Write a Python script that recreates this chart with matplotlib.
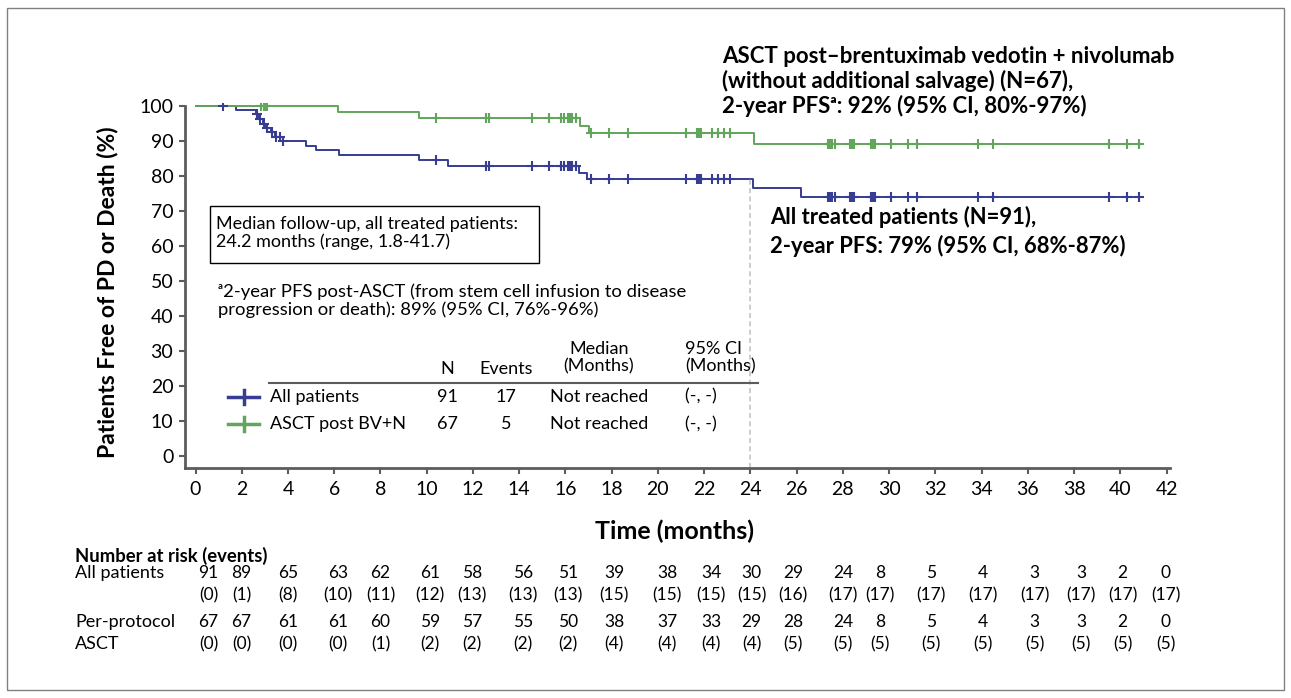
import matplotlib
matplotlib.use("Agg")
import matplotlib.pyplot as plt
import matplotlib.transforms as mtransforms
from matplotlib.lines import Line2D
from matplotlib.patches import Rectangle
import numpy as np

plt.rcParams['font.family'] = ['Lato', 'DejaVu Sans']

W, H = 1291, 698

# Kaplan-Meier steps: month at which the curve changes and the level from then on
all_t = [0, 1.76, 2.6, 2.75, 2.9, 3.05, 3.25, 3.45, 3.78, 4.78, 5.2, 6.2,
         9.68, 10.9, 16.6, 16.95, 24.1, 26.2, 41.0]
all_s = [100, 98.9, 97.6, 96.3, 95.0, 93.8, 92.5, 91.2, 90.0, 88.7, 87.4, 86.0,
         84.5, 82.9, 81.0, 79.1, 76.5, 73.9, 73.9]
asct_t = [0, 6.15, 9.68, 16.65, 17.0, 24.15, 41.0]
asct_s = [100, 98.3, 96.5, 94.2, 92.2, 89.1, 89.1]

# censored observations (months)
all_cens = [1.2, 2.65, 2.8, 2.95, 3.1, 3.3, 3.5, 3.65, 3.8, 10.4, 12.55, 12.7,
            14.57, 15.3, 15.8, 15.95, 16.1, 16.2, 16.3, 16.45, 17.1, 17.9, 18.7,
            21.2, 21.7, 21.78, 21.85, 22.35, 22.6, 22.85, 23.1,
            27.35, 27.45, 27.55, 27.65, 28.3, 28.4, 28.5, 29.2, 29.3, 29.4,
            30.1, 30.8, 31.2, 33.85, 34.5, 39.5, 40.3, 40.8]
asct_cens = [2.85, 2.95, 3.0, 3.1, 10.4, 12.55, 12.7, 14.57, 15.3, 15.8, 15.95,
             16.1, 16.2, 16.3, 16.45, 17.1, 17.9, 18.7,
             21.2, 21.7, 21.78, 21.85, 22.35, 22.6, 22.85, 23.1,
             27.35, 27.45, 27.55, 27.65, 28.3, 28.4, 28.5, 29.2, 29.3, 29.4,
             30.1, 30.8, 31.2, 33.85, 34.5, 39.5, 40.3, 40.8]

landmark = 24

# number at risk (events) every 2 months
all_risk = [91, 89, 65, 63, 62, 61, 58, 56, 51, 39, 38, 34, 30, 29, 24, 8, 5, 4, 3, 3, 2, 0]
all_events = [0, 1, 8, 10, 11, 12, 13, 13, 13, 15, 15, 15, 15, 16, 17, 17, 17, 17, 17, 17, 17, 17]
pp_risk = [67, 67, 61, 61, 60, 59, 57, 55, 50, 38, 37, 33, 29, 28, 24, 8, 5, 4, 3, 3, 2, 0]
pp_events = [0, 0, 0, 0, 1, 2, 2, 2, 2, 4, 4, 4, 4, 5, 5, 5, 5, 5, 5, 5, 5, 5]

# summary table
grp_names = ['All patients', 'ASCT post BV+N']
grp_n = [91, 67]
grp_events = [17, 5]
grp_median = ['Not reached', 'Not reached']
grp_ci = ['(-, -)', '(-, -)']

BLUE = '#363d92'
GREEN = '#62a55c'
GREY = '#5c5c5c'

# where the risk-table columns sit along the time axis
risk_cols = [0.56, 1.99, 4.0, 6.17, 8.0, 10.14, 11.95, 14.15, 16.1, 18.1, 20.4,
             22.3, 24.05, 25.85, 28.0, 29.6, 31.8, 34.05, 36.3, 38.3, 40.1, 41.97]


def fxy(x, y):
    return x / W, 1 - y / H


def censor_levels(t, s, c):
    idx = np.searchsorted(t, c, side='right') - 1
    return np.asarray(s)[idx]


fig = plt.figure(figsize=(W / 100, H / 100), dpi=100)
ax = fig.add_axes([0.1434, 0.3295, 0.7629, 0.5236])

ax.step(all_t, all_s, where='post', color=BLUE, lw=1.4)
ax.step(asct_t, asct_s, where='post', color=GREEN, lw=1.4)
ax.plot(all_cens, censor_levels(all_t, all_s, all_cens), ls='none', marker='+',
        ms=7, mew=1.5, color=BLUE)
ax.plot(asct_cens, censor_levels(asct_t, asct_s, asct_cens), ls='none', marker='+',
        ms=7, mew=1.5, color=GREEN)

ax.set_xlim(-0.45, 42.15)
ax.set_ylim(-3.3, 101)
ax.vlines(landmark, -3.3, censor_levels(all_t, all_s, [landmark])[0],
          colors='#c4c4c4', linestyles=(0, (3, 2)), lw=1.2)

ax.set_xticks(range(0, 43, 2))
ax.set_yticks(range(0, 101, 10))
for side in ('top', 'right'):
    ax.spines[side].set_visible(False)
for side in ('left', 'bottom'):
    ax.spines[side].set_color(GREY)
    ax.spines[side].set_linewidth(2)
ax.spines['left'].set_bounds(-3.3, 100)
ax.tick_params(axis='both', colors=GREY, width=1.5, length=4.5, labelsize=14,
               labelcolor='black')
ax.tick_params(axis='x', pad=5)
ax.tick_params(axis='y', pad=4)

ax.set_ylabel('Patients Free of PD or Death (%)', fontsize=16.5, fontweight='bold')
ax.yaxis.set_label_coords(-0.068, 0.48)
ax.set_xlabel('Time (months)', fontsize=18, fontweight='bold', va='center')
ax.xaxis.set_label_coords(0.497, -0.174)

# curve annotations
fig.text(*fxy(722, 81.5), 'ASCT post\u2013brentuximab vedotin + nivolumab\n'
         '(without additional salvage) (N=67),\n'
         '2-year PFS\u1d43: 92% (95% CI, 80%-97%)',
         fontsize=16, fontweight='bold', va='center', ha='left', linespacing=1.17)
fig.text(*fxy(770, 231.6), 'All treated patients (N=91),\n'
         '2-year PFS: 79% (95% CI, 68%-87%)',
         fontsize=15.8, fontweight='bold', va='center', ha='left', linespacing=1.35)

# follow-up box
fig.add_artist(Rectangle(fxy(210, 263), 329 / W, 57 / H, transform=fig.transFigure,
                         fill=False, ec='black', lw=1))
fig.text(*fxy(216, 233), 'Median follow-up, all treated patients:\n'
         '24.2 months (range, 1.8-41.7)', fontsize=13, va='center',
         linespacing=1.12)
fig.text(*fxy(218, 300.5), '\u1d43' + '2-year PFS post-ASCT (from stem cell infusion to disease\n'
         'progression or death): 89% (95% CI, 76%-96%)', fontsize=13.3,
         va='center', linespacing=1.1)

# summary table
tbl_fs = 13
tbl_x = [447, 506, 599, 685]
fig.text(*fxy(tbl_x[0], 369), 'N', fontsize=tbl_fs, ha='center', va='center')
fig.text(*fxy(tbl_x[1], 369), 'Events', fontsize=tbl_fs, ha='center', va='center')
fig.text(*fxy(tbl_x[2], 358), 'Median\n(Months)', fontsize=tbl_fs, ha='center',
         va='center', linespacing=1.1)
fig.text(*fxy(tbl_x[3], 358), '95% CI\n(Months)', fontsize=tbl_fs, ha='left',
         va='center', linespacing=1.1)
fig.add_artist(Line2D([269 / W, 758 / W], [1 - 382.7 / H] * 2, color=GREY, lw=1.5))
for i, color in enumerate([BLUE, GREEN]):
    y = [396.7, 424][i]
    fig.add_artist(Line2D([228 / W, 259 / W], [1 - y / H] * 2, color=color, lw=2.5))
    fig.add_artist(Line2D([243.5 / W] * 2, [1 - (y - 7) / H, 1 - (y + 7) / H],
                          color=color, lw=2.5))
    fig.text(*fxy(269.5, y), grp_names[i], fontsize=tbl_fs, va='center')
    fig.text(*fxy(tbl_x[0], y), str(grp_n[i]), fontsize=tbl_fs, ha='center', va='center')
    fig.text(*fxy(tbl_x[1], y), str(grp_events[i]), fontsize=tbl_fs, ha='center',
             va='center')
    fig.text(*fxy(tbl_x[2], y), grp_median[i], fontsize=tbl_fs, ha='center',
             va='center')
    fig.text(*fxy(tbl_x[3], y), grp_ci[i], fontsize=tbl_fs, ha='left', va='center')

# number at risk
risk_fs = 12.5
fig.text(*fxy(75, 556), 'Number at risk (events)', fontsize=13.3, fontweight='bold',
         va='center')
fig.text(*fxy(75, 572.7), 'All patients', fontsize=13, va='center')
fig.text(*fxy(75, 621.7), 'Per-protocol', fontsize=13, va='center')
fig.text(*fxy(75, 644), 'ASCT', fontsize=13, va='center')
risk_tr = mtransforms.blended_transform_factory(ax.transData, fig.transFigure)
for x, n1, e1, n2, e2 in zip(risk_cols, all_risk, all_events, pp_risk, pp_events):
    for y, s in [(572.7, n1), (595, f'({e1})'), (621.7, n2), (644, f'({e2})')]:
        ax.text(x, 1 - y / H, str(s), transform=risk_tr, fontsize=risk_fs,
                ha='center', va='center', clip_on=False)

# outer frame
fig.add_artist(Rectangle(fxy(7, 690), 1277 / W, 682 / H, transform=fig.transFigure,
                         fill=False, ec='#808080', lw=1))

fig.savefig('out.png', dpi=100)
